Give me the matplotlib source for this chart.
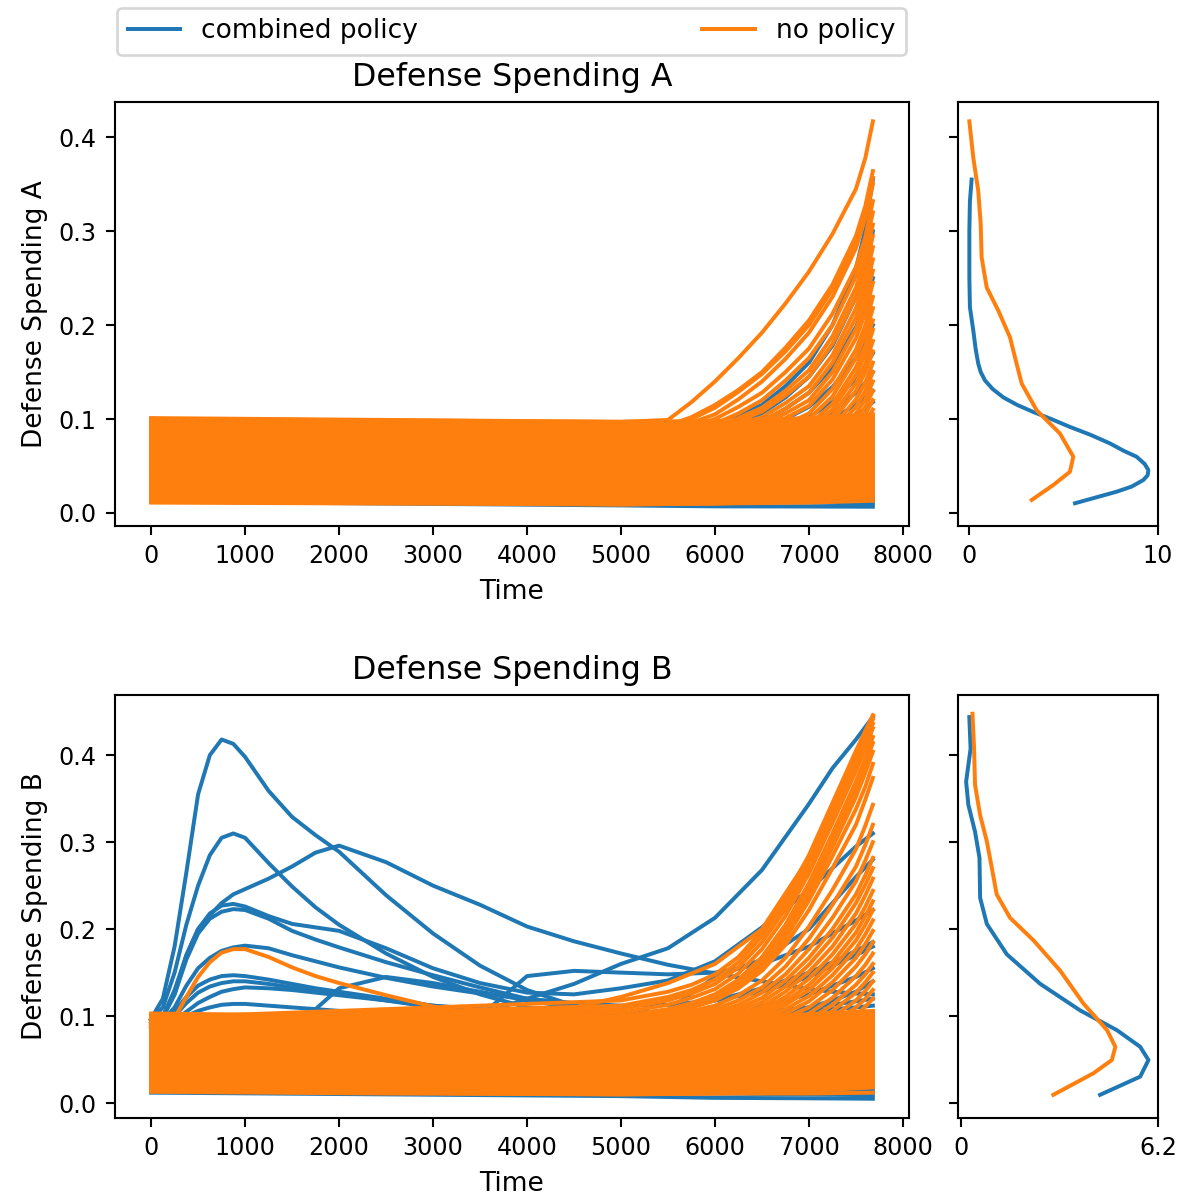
import matplotlib.pyplot as plt
from matplotlib.lines import Line2D

plt.rcParams['xtick.labelsize'] = 9
plt.rcParams['ytick.labelsize'] = 9
plt.rcParams['axes.labelsize'] = 10
plt.rcParams['axes.titlesize'] = 12
plt.rcParams['legend.fontsize'] = 10

BLUE = '#1f77b4'
ORANGE = '#ff7f0e'

policies = ['combined policy', 'no policy']

# time grids the runs were sampled on
time_band = [0, 2500, 5000, 6000, 7000, 7680]
time_fan = [0, 5000, 5500, 5750, 6000, 6250, 6500, 6750, 7000, 7250, 7500, 7600, 7680]
time_fine = [0, 125, 250, 375, 500, 625, 750, 875, 1000, 1250, 1500, 1750, 2000,
             2500, 3000, 3500, 4000, 4500, 5000, 5500, 6000, 6500, 7000, 7250, 7500, 7680]

# ---------------- Defense Spending A ----------------
a_combined_band = [
    [0.099, 0.096, 0.093, 0.092, 0.094, 0.098],
    [0.095, 0.092, 0.089, 0.088, 0.089, 0.091],
    [0.091, 0.088, 0.085, 0.083, 0.082, 0.082],
    [0.087, 0.084, 0.081, 0.079, 0.078, 0.079],
    [0.083, 0.080, 0.077, 0.074, 0.072, 0.071],
    [0.079, 0.076, 0.073, 0.070, 0.067, 0.066],
    [0.075, 0.072, 0.069, 0.066, 0.063, 0.062],
    [0.071, 0.068, 0.065, 0.062, 0.059, 0.057],
    [0.067, 0.064, 0.061, 0.058, 0.055, 0.053],
    [0.063, 0.060, 0.057, 0.054, 0.051, 0.049],
    [0.059, 0.056, 0.053, 0.051, 0.048, 0.046],
    [0.055, 0.052, 0.050, 0.048, 0.045, 0.044],
    [0.051, 0.049, 0.047, 0.045, 0.043, 0.042],
    [0.047, 0.045, 0.043, 0.042, 0.040, 0.039],
    [0.043, 0.042, 0.040, 0.039, 0.037, 0.036],
    [0.039, 0.038, 0.036, 0.035, 0.034, 0.033],
    [0.035, 0.034, 0.033, 0.032, 0.031, 0.030],
    [0.031, 0.030, 0.029, 0.028, 0.027, 0.026],
    [0.027, 0.026, 0.025, 0.024, 0.023, 0.022],
    [0.023, 0.022, 0.021, 0.020, 0.019, 0.018],
    [0.019, 0.018, 0.017, 0.016, 0.015, 0.014],
    [0.015, 0.014, 0.013, 0.012, 0.011, 0.010],
    [0.012, 0.010, 0.008, 0.007, 0.0068, 0.0066],
]
a_combined_fan = [
    [0.090, 0.085, 0.087, 0.090, 0.095, 0.104, 0.115, 0.135, 0.160, 0.200, 0.260, 0.302, 0.355],
    [0.085, 0.080, 0.082, 0.085, 0.090, 0.097, 0.106, 0.123, 0.145, 0.178, 0.230, 0.262, 0.300],
    [0.080, 0.076, 0.078, 0.081, 0.084, 0.090, 0.097, 0.111, 0.128, 0.155, 0.198, 0.222, 0.250],
    [0.075, 0.072, 0.074, 0.076, 0.079, 0.084, 0.090, 0.100, 0.113, 0.134, 0.165, 0.181, 0.200],
    [0.070, 0.068, 0.070, 0.072, 0.074, 0.078, 0.083, 0.091, 0.102, 0.118, 0.143, 0.156, 0.170],
    [0.065, 0.064, 0.066, 0.068, 0.070, 0.074, 0.078, 0.085, 0.094, 0.108, 0.128, 0.139, 0.150],
    [0.060, 0.060, 0.062, 0.064, 0.066, 0.069, 0.073, 0.079, 0.087, 0.099, 0.116, 0.123, 0.130],
    [0.055, 0.056, 0.058, 0.060, 0.062, 0.065, 0.068, 0.073, 0.080, 0.090, 0.104, 0.111, 0.118],
]
a_none_band = [
    [0.101, 0.099, 0.097, 0.098, 0.101, 0.105],
    [0.099, 0.097, 0.095, 0.097, 0.100, 0.104],
    [0.097, 0.095, 0.093, 0.094, 0.097, 0.101],
    [0.095, 0.093, 0.091, 0.093, 0.096, 0.100],
    [0.093, 0.091, 0.089, 0.090, 0.093, 0.097],
    [0.091, 0.089, 0.087, 0.089, 0.092, 0.096],
    [0.089, 0.087, 0.085, 0.086, 0.089, 0.093],
    [0.087, 0.085, 0.083, 0.085, 0.088, 0.092],
    [0.085, 0.083, 0.081, 0.082, 0.085, 0.089],
    [0.083, 0.081, 0.079, 0.081, 0.084, 0.088],
    [0.081, 0.079, 0.077, 0.078, 0.081, 0.085],
    [0.079, 0.077, 0.075, 0.077, 0.080, 0.084],
    [0.077, 0.075, 0.073, 0.074, 0.077, 0.081],
    [0.075, 0.073, 0.071, 0.073, 0.076, 0.080],
    [0.073, 0.071, 0.069, 0.070, 0.073, 0.077],
    [0.071, 0.069, 0.067, 0.069, 0.072, 0.076],
    [0.069, 0.067, 0.065, 0.066, 0.069, 0.073],
    [0.067, 0.065, 0.063, 0.065, 0.068, 0.072],
    [0.065, 0.063, 0.061, 0.062, 0.065, 0.069],
    [0.063, 0.061, 0.059, 0.061, 0.064, 0.068],
    [0.061, 0.059, 0.057, 0.058, 0.061, 0.065],
    [0.059, 0.057, 0.055, 0.057, 0.060, 0.064],
    [0.057, 0.055, 0.053, 0.054, 0.057, 0.061],
    [0.055, 0.053, 0.051, 0.053, 0.056, 0.060],
    [0.053, 0.051, 0.049, 0.050, 0.053, 0.057],
    [0.051, 0.049, 0.047, 0.049, 0.052, 0.056],
    [0.049, 0.047, 0.045, 0.046, 0.049, 0.053],
    [0.047, 0.045, 0.043, 0.045, 0.048, 0.052],
    [0.045, 0.043, 0.041, 0.042, 0.045, 0.049],
    [0.043, 0.041, 0.039, 0.041, 0.044, 0.048],
    [0.041, 0.039, 0.037, 0.038, 0.041, 0.045],
    [0.039, 0.037, 0.035, 0.037, 0.040, 0.044],
    [0.037, 0.035, 0.033, 0.034, 0.037, 0.041],
    [0.035, 0.033, 0.031, 0.033, 0.036, 0.040],
    [0.033, 0.031, 0.029, 0.030, 0.033, 0.037],
    [0.031, 0.029, 0.027, 0.029, 0.032, 0.036],
    [0.029, 0.027, 0.025, 0.026, 0.029, 0.033],
    [0.027, 0.025, 0.023, 0.025, 0.028, 0.032],
    [0.025, 0.023, 0.021, 0.022, 0.025, 0.029],
    [0.023, 0.021, 0.019, 0.021, 0.024, 0.028],
    [0.021, 0.019, 0.017, 0.018, 0.021, 0.025],
    [0.019, 0.017, 0.015, 0.017, 0.020, 0.024],
    [0.017, 0.015, 0.013, 0.014, 0.017, 0.021],
    [0.015, 0.013, 0.011, 0.013, 0.016, 0.020],
    [0.013, 0.011, 0.009, 0.010, 0.013, 0.017],
    [0.011, 0.010, 0.009, 0.010, 0.011, 0.013],
]
a_none_fan = [
    [0.100, 0.097, 0.099, 0.118, 0.140, 0.165, 0.192, 0.223, 0.257, 0.297, 0.345, 0.378, 0.417],
    [0.095, 0.091, 0.093, 0.102, 0.115, 0.131, 0.150, 0.176, 0.205, 0.243, 0.295, 0.327, 0.364],
    [0.093, 0.089, 0.091, 0.100, 0.112, 0.129, 0.148, 0.172, 0.200, 0.238, 0.288, 0.320, 0.357],
    [0.091, 0.087, 0.089, 0.096, 0.105, 0.121, 0.140, 0.164, 0.192, 0.230, 0.282, 0.314, 0.350],
    [0.089, 0.085, 0.087, 0.092, 0.100, 0.113, 0.128, 0.150, 0.175, 0.212, 0.262, 0.294, 0.332],
    [0.087, 0.083, 0.085, 0.089, 0.095, 0.106, 0.120, 0.141, 0.165, 0.200, 0.252, 0.284, 0.320],
    [0.085, 0.082, 0.084, 0.087, 0.092, 0.101, 0.112, 0.130, 0.152, 0.188, 0.240, 0.271, 0.307],
    [0.084, 0.080, 0.083, 0.086, 0.090, 0.098, 0.108, 0.125, 0.145, 0.180, 0.230, 0.260, 0.295],
    [0.082, 0.078, 0.080, 0.083, 0.088, 0.094, 0.102, 0.117, 0.135, 0.168, 0.218, 0.248, 0.283],
    [0.080, 0.076, 0.078, 0.081, 0.085, 0.091, 0.098, 0.111, 0.128, 0.160, 0.208, 0.236, 0.270],
    [0.077, 0.074, 0.076, 0.079, 0.082, 0.087, 0.094, 0.106, 0.120, 0.150, 0.196, 0.225, 0.258],
    [0.074, 0.070, 0.072, 0.075, 0.078, 0.083, 0.090, 0.101, 0.114, 0.142, 0.186, 0.213, 0.245],
    [0.071, 0.068, 0.070, 0.072, 0.075, 0.079, 0.085, 0.094, 0.106, 0.132, 0.174, 0.200, 0.230],
    [0.068, 0.065, 0.067, 0.069, 0.072, 0.076, 0.081, 0.089, 0.100, 0.124, 0.165, 0.190, 0.218],
    [0.066, 0.062, 0.064, 0.066, 0.068, 0.071, 0.076, 0.084, 0.094, 0.116, 0.155, 0.178, 0.205],
    [0.063, 0.060, 0.062, 0.064, 0.066, 0.069, 0.074, 0.081, 0.090, 0.110, 0.147, 0.169, 0.195],
    [0.061, 0.058, 0.060, 0.062, 0.064, 0.067, 0.071, 0.078, 0.086, 0.104, 0.138, 0.159, 0.183],
    [0.058, 0.055, 0.057, 0.058, 0.060, 0.063, 0.067, 0.073, 0.081, 0.098, 0.130, 0.150, 0.172],
    [0.055, 0.052, 0.054, 0.055, 0.057, 0.060, 0.063, 0.069, 0.076, 0.091, 0.121, 0.139, 0.160],
    [0.053, 0.050, 0.052, 0.053, 0.055, 0.057, 0.060, 0.065, 0.072, 0.086, 0.113, 0.130, 0.150],
    [0.050, 0.047, 0.049, 0.050, 0.052, 0.054, 0.057, 0.061, 0.067, 0.080, 0.106, 0.121, 0.140],
    [0.047, 0.044, 0.046, 0.047, 0.049, 0.051, 0.054, 0.058, 0.063, 0.075, 0.099, 0.113, 0.130],
    [0.044, 0.041, 0.043, 0.044, 0.046, 0.048, 0.050, 0.054, 0.059, 0.070, 0.092, 0.105, 0.120],
    [0.041, 0.038, 0.040, 0.041, 0.043, 0.045, 0.047, 0.050, 0.055, 0.065, 0.085, 0.097, 0.110],
]

# kde of the final values, A
a_combined_kde_y = [0.0103, 0.0226, 0.028, 0.035, 0.040, 0.0456, 0.052, 0.0598, 0.066, 0.074,
                    0.083, 0.0916, 0.100, 0.1075, 0.115, 0.123, 0.132, 0.141, 0.150, 0.159,
                    0.175, 0.194, 0.219, 0.251, 0.300, 0.332, 0.355]
a_combined_kde_x = [5.61, 7.81, 8.60, 9.22, 9.45, 9.49, 9.30, 8.87, 8.20, 7.46,
                    6.45, 5.34, 4.35, 3.40, 2.55, 1.82, 1.25, 0.85, 0.62, 0.49,
                    0.35, 0.23, 0.05, 0.02, 0.02, 0.05, 0.14]
a_none_kde_y = [0.0138, 0.0297, 0.0438, 0.0598, 0.0846, 0.1093, 0.1377, 0.166, 0.187, 0.2155,
                0.240, 0.272, 0.3075, 0.343, 0.378, 0.417]
a_none_kde_x = [3.32, 4.46, 5.34, 5.52, 4.81, 3.58, 2.79, 2.43, 2.17, 1.55,
                0.94, 0.67, 0.62, 0.49, 0.23, 0.02]

# ---------------- Defense Spending B ----------------
b_combined_band = [
    [0.098, 0.095, 0.092, 0.090, 0.091, 0.094],
    [0.094, 0.091, 0.088, 0.086, 0.085, 0.086],
    [0.090, 0.087, 0.084, 0.081, 0.079, 0.078],
    [0.086, 0.083, 0.080, 0.077, 0.074, 0.072],
    [0.082, 0.079, 0.076, 0.073, 0.070, 0.068],
    [0.078, 0.075, 0.072, 0.069, 0.066, 0.064],
    [0.074, 0.071, 0.068, 0.065, 0.062, 0.060],
    [0.070, 0.067, 0.064, 0.061, 0.058, 0.056],
    [0.066, 0.063, 0.060, 0.058, 0.055, 0.053],
    [0.062, 0.059, 0.057, 0.055, 0.052, 0.050],
    [0.058, 0.056, 0.054, 0.052, 0.049, 0.047],
    [0.054, 0.052, 0.050, 0.048, 0.046, 0.044],
    [0.050, 0.048, 0.046, 0.045, 0.043, 0.041],
    [0.046, 0.044, 0.043, 0.042, 0.040, 0.038],
    [0.042, 0.041, 0.040, 0.039, 0.037, 0.035],
    [0.038, 0.037, 0.036, 0.035, 0.034, 0.032],
    [0.034, 0.033, 0.032, 0.031, 0.030, 0.029],
    [0.030, 0.029, 0.028, 0.027, 0.026, 0.025],
    [0.026, 0.025, 0.024, 0.023, 0.022, 0.021],
    [0.022, 0.021, 0.020, 0.019, 0.018, 0.017],
    [0.018, 0.017, 0.016, 0.015, 0.014, 0.013],
    [0.014, 0.013, 0.012, 0.011, 0.010, 0.009],
    [0.012, 0.010, 0.008, 0.006, 0.0055, 0.005],
]
b_combined_runs = [
    [0.097, 0.120, 0.180, 0.265, 0.355, 0.400, 0.418, 0.413, 0.398, 0.359, 0.329, 0.308, 0.289,
     0.239, 0.195, 0.158, 0.130, 0.112, 0.102, 0.096, 0.093, 0.092, 0.094, 0.096, 0.098, 0.101],
    [0.096, 0.110, 0.150, 0.205, 0.250, 0.285, 0.305, 0.310, 0.305, 0.276, 0.249, 0.225, 0.205,
     0.172, 0.145, 0.125, 0.110, 0.102, 0.097, 0.094, 0.093, 0.095, 0.098, 0.100, 0.103, 0.105],
    [0.095, 0.098, 0.125, 0.170, 0.200, 0.216, 0.230, 0.240, 0.246, 0.258, 0.272, 0.288, 0.296,
     0.277, 0.250, 0.228, 0.203, 0.186, 0.172, 0.159, 0.149, 0.140, 0.131, 0.128, 0.126, 0.125],
    [0.093, 0.093, 0.093, 0.093, 0.093, 0.093, 0.093, 0.093, 0.093, 0.093, 0.094, 0.094, 0.094,
     0.095, 0.096, 0.102, 0.120, 0.137, 0.160, 0.178, 0.213, 0.268, 0.344, 0.385, 0.418, 0.444],
    [0.094, 0.100, 0.130, 0.170, 0.200, 0.218, 0.227, 0.229, 0.226, 0.215, 0.206, 0.202, 0.198,
     0.178, 0.155, 0.138, 0.127, 0.125, 0.132, 0.141, 0.163, 0.202, 0.245, 0.270, 0.295, 0.310],
    [0.092, 0.100, 0.125, 0.165, 0.195, 0.212, 0.220, 0.223, 0.222, 0.212, 0.198, 0.188, 0.179,
     0.162, 0.147, 0.133, 0.120, 0.108, 0.100, 0.095, 0.095, 0.100, 0.110, 0.118, 0.128, 0.140],
    [0.090, 0.095, 0.110, 0.135, 0.155, 0.167, 0.175, 0.179, 0.181, 0.178, 0.170, 0.163, 0.156,
     0.144, 0.134, 0.126, 0.120, 0.115, 0.112, 0.113, 0.118, 0.128, 0.145, 0.158, 0.170, 0.180],
    [0.088, 0.092, 0.105, 0.122, 0.135, 0.142, 0.146, 0.147, 0.146, 0.142, 0.137, 0.132, 0.128,
     0.120, 0.112, 0.107, 0.104, 0.101, 0.100, 0.100, 0.102, 0.105, 0.110, 0.113, 0.117, 0.120],
    [0.086, 0.090, 0.100, 0.115, 0.127, 0.134, 0.138, 0.140, 0.140, 0.137, 0.133, 0.129, 0.126,
     0.118, 0.110, 0.103, 0.097, 0.095, 0.094, 0.094, 0.095, 0.096, 0.098, 0.099, 0.100, 0.101],
    [0.085, 0.088, 0.095, 0.105, 0.115, 0.122, 0.128, 0.131, 0.133, 0.132, 0.130, 0.127, 0.124,
     0.118, 0.112, 0.108, 0.105, 0.103, 0.102, 0.106, 0.118, 0.132, 0.150, 0.162, 0.175, 0.185],
    [0.085, 0.087, 0.092, 0.100, 0.106, 0.110, 0.113, 0.114, 0.114, 0.112, 0.110, 0.108, 0.106,
     0.103, 0.100, 0.098, 0.097, 0.096, 0.096, 0.097, 0.099, 0.102, 0.106, 0.108, 0.110, 0.112],
    [0.090, 0.090, 0.091, 0.091, 0.092, 0.092, 0.092, 0.093, 0.093, 0.093, 0.094, 0.108, 0.132,
     0.145, 0.138, 0.128, 0.118, 0.110, 0.105, 0.104, 0.106, 0.112, 0.125, 0.135, 0.145, 0.155],
    [0.091, 0.091, 0.091, 0.091, 0.092, 0.092, 0.092, 0.092, 0.093, 0.093, 0.093, 0.094, 0.094,
     0.095, 0.097, 0.100, 0.146, 0.152, 0.150, 0.148, 0.150, 0.160, 0.180, 0.195, 0.210, 0.222],
    [0.089, 0.089, 0.089, 0.089, 0.089, 0.090, 0.090, 0.090, 0.090, 0.091, 0.091, 0.092, 0.092,
     0.093, 0.094, 0.095, 0.097, 0.098, 0.100, 0.107, 0.145, 0.165, 0.200, 0.230, 0.260, 0.280],
]
b_none_band = [
    [0.103, 0.100, 0.098, 0.099, 0.102, 0.106],
    [0.101, 0.099, 0.097, 0.099, 0.101, 0.104],
    [0.099, 0.096, 0.094, 0.095, 0.098, 0.102],
    [0.097, 0.095, 0.093, 0.095, 0.097, 0.100],
    [0.095, 0.092, 0.090, 0.091, 0.094, 0.098],
    [0.093, 0.091, 0.089, 0.091, 0.093, 0.096],
    [0.091, 0.088, 0.086, 0.087, 0.090, 0.094],
    [0.089, 0.087, 0.085, 0.087, 0.089, 0.092],
    [0.087, 0.084, 0.082, 0.083, 0.086, 0.090],
    [0.085, 0.083, 0.081, 0.083, 0.085, 0.088],
    [0.083, 0.080, 0.078, 0.079, 0.082, 0.086],
    [0.081, 0.079, 0.077, 0.079, 0.081, 0.084],
    [0.079, 0.076, 0.074, 0.075, 0.078, 0.082],
    [0.077, 0.075, 0.073, 0.075, 0.077, 0.080],
    [0.075, 0.072, 0.070, 0.071, 0.074, 0.078],
    [0.073, 0.071, 0.069, 0.071, 0.073, 0.076],
    [0.071, 0.068, 0.066, 0.067, 0.070, 0.074],
    [0.069, 0.067, 0.065, 0.067, 0.069, 0.072],
    [0.067, 0.064, 0.062, 0.063, 0.066, 0.070],
    [0.065, 0.063, 0.061, 0.063, 0.065, 0.068],
    [0.063, 0.060, 0.058, 0.059, 0.062, 0.066],
    [0.061, 0.059, 0.057, 0.059, 0.061, 0.064],
    [0.059, 0.056, 0.054, 0.055, 0.058, 0.062],
    [0.057, 0.055, 0.053, 0.055, 0.057, 0.060],
    [0.055, 0.052, 0.050, 0.051, 0.054, 0.058],
    [0.053, 0.051, 0.049, 0.051, 0.053, 0.056],
    [0.051, 0.048, 0.046, 0.047, 0.050, 0.054],
    [0.049, 0.047, 0.045, 0.047, 0.049, 0.052],
    [0.047, 0.044, 0.042, 0.043, 0.046, 0.050],
    [0.045, 0.043, 0.041, 0.043, 0.045, 0.048],
    [0.043, 0.040, 0.038, 0.039, 0.042, 0.046],
    [0.041, 0.039, 0.037, 0.039, 0.041, 0.044],
    [0.039, 0.036, 0.034, 0.035, 0.038, 0.042],
    [0.037, 0.035, 0.033, 0.035, 0.037, 0.040],
    [0.035, 0.032, 0.030, 0.031, 0.034, 0.038],
    [0.033, 0.031, 0.029, 0.031, 0.033, 0.036],
    [0.031, 0.028, 0.026, 0.027, 0.030, 0.034],
    [0.029, 0.027, 0.025, 0.027, 0.029, 0.032],
    [0.027, 0.024, 0.022, 0.023, 0.026, 0.030],
    [0.025, 0.023, 0.021, 0.023, 0.025, 0.028],
    [0.023, 0.020, 0.018, 0.019, 0.022, 0.026],
    [0.021, 0.019, 0.017, 0.019, 0.021, 0.024],
    [0.019, 0.016, 0.014, 0.015, 0.018, 0.022],
    [0.017, 0.015, 0.013, 0.015, 0.017, 0.020],
    [0.015, 0.012, 0.010, 0.011, 0.014, 0.018],
    [0.013, 0.011, 0.010, 0.011, 0.011, 0.012],
]
b_none_fan = [
    [0.098, 0.118, 0.128, 0.136, 0.148, 0.168, 0.198, 0.236, 0.285, 0.345, 0.405, 0.428, 0.446],
    [0.097, 0.112, 0.122, 0.130, 0.142, 0.162, 0.192, 0.230, 0.279, 0.339, 0.399, 0.422, 0.441],
    [0.096, 0.108, 0.118, 0.126, 0.137, 0.156, 0.185, 0.223, 0.272, 0.331, 0.391, 0.415, 0.436],
    [0.095, 0.104, 0.113, 0.121, 0.131, 0.149, 0.177, 0.215, 0.264, 0.322, 0.382, 0.408, 0.431],
    [0.094, 0.100, 0.108, 0.115, 0.125, 0.142, 0.168, 0.205, 0.253, 0.310, 0.370, 0.397, 0.421],
    [0.093, 0.098, 0.106, 0.113, 0.122, 0.138, 0.163, 0.199, 0.246, 0.302, 0.362, 0.390, 0.414],
    [0.092, 0.097, 0.105, 0.111, 0.120, 0.135, 0.159, 0.194, 0.240, 0.294, 0.352, 0.380, 0.404],
    [0.091, 0.096, 0.104, 0.110, 0.119, 0.133, 0.156, 0.189, 0.233, 0.284, 0.338, 0.364, 0.390],
    [0.092, 0.096, 0.103, 0.110, 0.118, 0.132, 0.152, 0.182, 0.222, 0.270, 0.320, 0.349, 0.374],
    [0.090, 0.094, 0.100, 0.106, 0.112, 0.124, 0.141, 0.167, 0.203, 0.245, 0.292, 0.319, 0.343],
    [0.088, 0.092, 0.097, 0.102, 0.108, 0.118, 0.133, 0.157, 0.189, 0.228, 0.272, 0.297, 0.320],
    [0.086, 0.090, 0.095, 0.099, 0.104, 0.113, 0.127, 0.148, 0.177, 0.213, 0.255, 0.279, 0.300],
    [0.084, 0.088, 0.093, 0.096, 0.100, 0.109, 0.121, 0.141, 0.167, 0.200, 0.240, 0.262, 0.282],
    [0.082, 0.086, 0.090, 0.093, 0.097, 0.105, 0.116, 0.134, 0.159, 0.190, 0.230, 0.251, 0.270],
    [0.080, 0.084, 0.088, 0.091, 0.095, 0.101, 0.111, 0.128, 0.151, 0.180, 0.218, 0.239, 0.258],
    [0.078, 0.082, 0.086, 0.089, 0.092, 0.098, 0.107, 0.122, 0.143, 0.171, 0.206, 0.226, 0.244],
    [0.075, 0.080, 0.084, 0.087, 0.090, 0.095, 0.103, 0.117, 0.136, 0.162, 0.196, 0.215, 0.232],
    [0.072, 0.078, 0.082, 0.085, 0.088, 0.093, 0.100, 0.113, 0.130, 0.155, 0.187, 0.205, 0.222],
    [0.070, 0.075, 0.079, 0.082, 0.085, 0.090, 0.096, 0.108, 0.123, 0.147, 0.177, 0.194, 0.210],
    [0.066, 0.072, 0.076, 0.079, 0.082, 0.086, 0.092, 0.103, 0.117, 0.139, 0.167, 0.183, 0.198],
    [0.062, 0.068, 0.072, 0.075, 0.078, 0.082, 0.088, 0.098, 0.110, 0.130, 0.157, 0.171, 0.185],
    [0.058, 0.064, 0.068, 0.070, 0.073, 0.077, 0.082, 0.091, 0.103, 0.121, 0.146, 0.159, 0.172],
    [0.054, 0.060, 0.064, 0.066, 0.069, 0.072, 0.077, 0.085, 0.096, 0.113, 0.136, 0.148, 0.160],
    [0.050, 0.056, 0.060, 0.062, 0.065, 0.068, 0.072, 0.079, 0.090, 0.106, 0.127, 0.139, 0.150],
    [0.045, 0.052, 0.056, 0.058, 0.060, 0.063, 0.067, 0.074, 0.085, 0.099, 0.118, 0.129, 0.140],
    [0.040, 0.048, 0.052, 0.054, 0.056, 0.059, 0.063, 0.069, 0.079, 0.092, 0.110, 0.120, 0.130],
    [0.035, 0.044, 0.048, 0.050, 0.052, 0.055, 0.058, 0.064, 0.073, 0.085, 0.101, 0.111, 0.120],
]
b_none_runs = [
    [0.096, 0.097, 0.098, 0.122, 0.145, 0.162, 0.173, 0.177, 0.177, 0.168, 0.156, 0.146, 0.138,
     0.124, 0.111, 0.101, 0.101, 0.110, 0.122, 0.138, 0.160, 0.200, 0.282, 0.340, 0.400, 0.445],
]

# kde of the final values, B
b_combined_kde_y = [0.0095, 0.0304, 0.0495, 0.0647, 0.0838, 0.1066, 0.137, 0.171, 0.206, 0.236,
                    0.282, 0.312, 0.343, 0.3695, 0.4076, 0.4438]
b_combined_kde_x = [4.38, 5.64, 5.90, 5.64, 4.91, 3.75, 2.50, 1.45, 0.82, 0.61,
                    0.59, 0.45, 0.24, 0.17, 0.31, 0.27]
b_none_kde_y = [0.0095, 0.0343, 0.0495, 0.0647, 0.0838, 0.1143, 0.152, 0.187, 0.213, 0.240,
                0.270, 0.301, 0.331, 0.366, 0.4076, 0.4476]
b_none_kde_x = [2.91, 4.17, 4.75, 4.86, 4.60, 3.86, 3.13, 2.29, 1.55, 1.13,
                0.98, 0.82, 0.61, 0.45, 0.42, 0.37]


def draw_runs(ax, t, runs, color):
    for run in runs:
        ax.plot(t, run, color=color, lw=1.5)


def draw_panel(ax, kde_ax, title, combined, none, kde, kde_max):
    # combined policy first, no policy drawn over it
    for t, runs in combined:
        draw_runs(ax, t, runs, BLUE)
    for t, runs in none:
        draw_runs(ax, t, runs, ORANGE)
    ax.set_title(title)
    ax.set_xlabel('Time')
    ax.set_ylabel(title)
    ax.set_xticks(range(0, 8001, 1000))
    ax.set_yticks([0.0, 0.1, 0.2, 0.3, 0.4])

    (cx, cy), (nx, ny) = kde
    kde_ax.plot(cx, cy, color=BLUE, lw=1.5)
    kde_ax.plot(nx, ny, color=ORANGE, lw=1.5)
    kde_ax.tick_params(labelleft=False)
    kde_ax.set_xticks([0, kde_max[1]])
    kde_ax.set_xticklabels(['0', kde_max[2]])
    kde_ax.set_xlim(kde_max[0], kde_max[1])


fig = plt.figure(figsize=(1182 / 190, 1202 / 190), dpi=190)
ax_a = fig.add_axes([0.0973, 0.5624, 0.6717, 0.3527])
kde_a = fig.add_axes([0.8105, 0.5624, 0.1692, 0.3527], sharey=ax_a)
ax_b = fig.add_axes([0.0973, 0.0699, 0.6717, 0.3523])
kde_b = fig.add_axes([0.8105, 0.0699, 0.1692, 0.3523], sharey=ax_b)

draw_panel(ax_a, kde_a, 'Defense Spending A',
           [(time_band, a_combined_band), (time_fan, a_combined_fan)],
           [(time_band, a_none_band), (time_fan, a_none_fan)],
           [(a_combined_kde_x, a_combined_kde_y), (a_none_kde_x, a_none_kde_y)],
           (-0.58, 10, '10'))
draw_panel(ax_b, kde_b, 'Defense Spending B',
           [(time_band, b_combined_band), (time_fine, b_combined_runs)],
           [(time_band, b_none_band), (time_fan, b_none_fan), (time_fine, b_none_runs)],
           [(b_combined_kde_x, b_combined_kde_y), (b_none_kde_x, b_none_kde_y)],
           (-0.085, 6.2, '6.2'))

handles = [Line2D([], [], color=BLUE, lw=1.5), Line2D([], [], color=ORANGE, lw=1.5)]
fig.legend(handles, policies, loc='lower left', ncol=2, mode='expand',
           bbox_to_anchor=(0.099, 0.9542, 0.6675, 0.0375), borderaxespad=0)

fig.savefig('out.png', dpi=190)
